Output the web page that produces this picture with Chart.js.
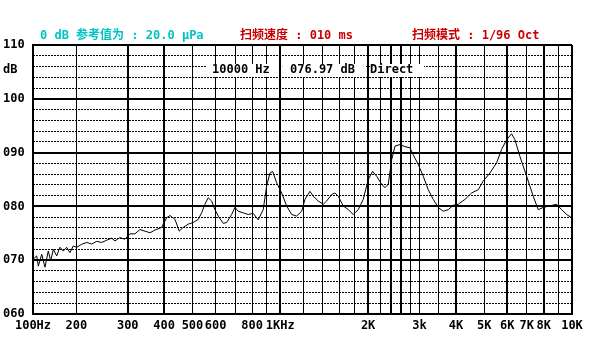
<!DOCTYPE html>
<html>
<head>
<meta charset="utf-8">
<script src="https://cdn.jsdelivr.net/npm/chart.js@4/dist/chart.umd.min.js"></script>
<style>
  html, body { margin: 0; padding: 0; background: #fff; }
  canvas { display: block; }
</style>
</head>
<body>
<canvas id="c" width="590" height="358"></canvas>
<script>
// ---- data ----
const freqHz = [142.3,146.2,148.1,152.1,156.1,160.2,163.3,166.7,171.2,175.7,
  180.3,185.2,190.1,195.1,200.4,208.5,216.9,225.6,234.7,244.2,
  254.0,264.2,271.2,282.0,293.4,305.2,317.5,330.2,343.6,357.4,
  371.8,392.1,407.8,418.6,435.4,450.4,464.9,483.6,502.9,523.2,
  537.5,551.6,566.2,581.6,597.0,612.8,637.4,654.8,681.1,699.1,
  717.5,746.4,776.4,807.7,840.2,874.0,898.0,921.6,941.4,971.5,
  1011,1051,1094,1138,1184,1215,1264,1297,1349,1404,
  1441,1500,1539,1580,1643,1710,1778,1851,1925,2002,
  2073,2140,2226,2285,2345,2409,2473,2572,2675,2782,
  2856,2971,3091,3216,3345,3479,3619,3765,3916,4074,
  4295,4529,4771,4963,5232,5514,5738,5969,6209,6373,
  6629,6990,7362,7659,7966,8400,8857,9213,9583,9970];
const levelDb = [70.2,70.8,68.9,71.1,68.7,71.7,69.9,72.0,70.8,72.4,
  71.7,72.4,71.4,72.65,72.4,72.96,73.3,73.0,73.5,73.3,
  73.7,74.1,73.6,74.2,73.9,74.9,74.9,75.7,75.4,75.1,
  75.6,76.1,77.9,78.3,77.6,75.4,76.1,76.7,77.0,77.6,
  78.8,80.4,81.6,81.0,79.4,78.2,76.85,77.0,78.5,79.8,
  79.1,78.8,78.5,78.7,77.5,79.4,83.8,86.2,86.5,84.4,
  82.5,80.1,78.5,78.2,79.1,81.3,82.8,81.9,81.0,80.4,
  81.0,82.2,82.5,81.9,80.1,79.4,78.5,79.4,81.3,85.0,
  86.5,85.6,84.1,83.5,84.1,88.7,91.2,91.5,91.1,90.9,
  89.6,87.8,85.6,83.1,81.3,79.8,79.1,79.4,80.2,80.4,
  81.3,82.5,83.1,84.7,86.2,88.1,90.6,92.4,93.5,92.4,
  89.3,85.6,81.9,79.4,79.8,80.1,80.4,79.4,78.5,77.9];

const xMin = 142, xMax = 10000;
const xGridFreqs = [142,200,300,400,500,600,700,800,900,1000,1200,1400,1600,1800,
  2000,2200,2400,2600,2800,3000,3500,4000,5000,6000,7000,8000,9000,10000];
const xLabelFreqs = [142,200,300,400,500,600,800,1000,2000,3000,4000,5000,6000,7000,8000,10000];
const xLabelTexts = ['100Hz','200','300','400','500','600','800','1KHz','2K','3k','4K','5K','6K','7K','8K','10K'];
const xBoldFreqs = [142,300,400,1000,2000,2400,2600,4000,6000,8000,10000];

const yMin = 60, yMax = 110;
const yMajorValues = [60,70,80,90,100,110];
const yMajorLabels = ['060','070','080','090','100','110'];

const titleRef = '0 dB 参考值为 : 20.0 μPa';
const titleSpeed = '扫频速度 : 010 ms';
const titleMode = '扫频模式 : 1/96 Oct';
const readoutTexts = ['10000 Hz', '076.97 dB', 'Direct'];
const unitLabel = 'dB';

// ---- chart ----
const FONT = "'DejaVu Sans Mono', 'Noto Sans CJK SC', monospace";

const overlay = {
  id: 'overlay',
  afterDraw(chart) {
    const ctx = chart.ctx;
    const xs = chart.scales.x;
    ctx.save();
    ctx.textBaseline = 'middle';
    // header
    ctx.font = "bold 12px " + FONT;
    ctx.fillStyle = '#00c4c4';
    ctx.textAlign = 'left';
    ctx.fillText(titleRef, 40, 36);
    ctx.fillStyle = '#c80000';
    ctx.fillText(titleSpeed, 240, 36);
    ctx.fillText(titleMode, 412, 36);
    // unit label
    ctx.fillStyle = '#000';
    ctx.fillText(unitLabel, 3, 70);
    // readout box
    const p1 = xs.getPixelForValue(1000), p2 = xs.getPixelForValue(2000);
    ctx.fillStyle = '#fff';
    ctx.fillRect(206, 64, p1 - 2 - 206, 13);
    ctx.fillRect(p1 + 2, 64, p2 - 2 - (p1 + 2), 13);
    ctx.fillRect(p2 + 2, 64, 424 - (p2 + 2), 13);
    ctx.fillStyle = '#000';
    ctx.fillText(readoutTexts[0], 212, 70);
    ctx.fillText(readoutTexts[1], 290, 70);
    ctx.fillText(readoutTexts[2], 370, 70);
    ctx.restore();
  }
};

new Chart(document.getElementById('c'), {
  type: 'line',
  data: {
    datasets: [{
      data: freqHz.map((f, i) => ({ x: f, y: levelDb[i] })),
      borderColor: '#000',
      borderWidth: 1,
      pointRadius: 0,
      tension: 0,
      fill: false
    }]
  },
  options: {
    responsive: false,
    animation: false,
    layout: { padding: { left: 3, right: 18, top: 45, bottom: 0 } },
    plugins: { legend: { display: false }, tooltip: { enabled: false }, title: { display: false } },
    scales: {
      x: {
        type: 'logarithmic',
        min: xMin, max: xMax,
        afterBuildTicks: s => { s.ticks = xGridFreqs.map(v => ({ value: v })); },
        afterFit: s => { s.height = 44; },
        ticks: {
          autoSkip: false, maxRotation: 0, minRotation: 0, padding: 5,
          color: '#000',
          font: { family: FONT, size: 12, weight: 'bold' },
          callback: (v) => { const k = xLabelFreqs.indexOf(v); return k >= 0 ? xLabelTexts[k] : ''; }
        },
        grid: {
          drawTicks: false,
          color: '#000',
          lineWidth: c => (c.tick && xBoldFreqs.includes(c.tick.value)) ? 2 : 1
        },
        border: { display: true, color: '#000', width: 2 }
      },
      y2: {
        position: 'left',
        min: yMin, max: yMax,
        afterFit: s => { s.width = 0; },
        ticks: { display: false, stepSize: 2 },
        grid: {
          drawTicks: false,
          color: c => (c.tick && c.tick.value % 10 === 0) ? 'rgba(0,0,0,0)' : '#000',
          lineWidth: 1
        },
        border: { display: false, dash: [2, 1] }
      },
      y: {
        position: 'left',
        min: yMin, max: yMax,
        afterBuildTicks: s => { s.ticks = yMajorValues.map(v => ({ value: v })); },
        afterFit: s => { s.width = 30; },
        ticks: {
          crossAlign: 'far', padding: 0,
          color: '#000',
          font: { family: FONT, size: 12, weight: 'bold' },
          callback: (v) => { const k = yMajorValues.indexOf(v); return k >= 0 ? yMajorLabels[k] : ''; }
        },
        grid: { drawTicks: false, color: '#000', lineWidth: 2 },
        border: { display: true, color: '#000', width: 2 }
      }
    }
  },
  plugins: [overlay]
});
</script>
</body>
</html>
